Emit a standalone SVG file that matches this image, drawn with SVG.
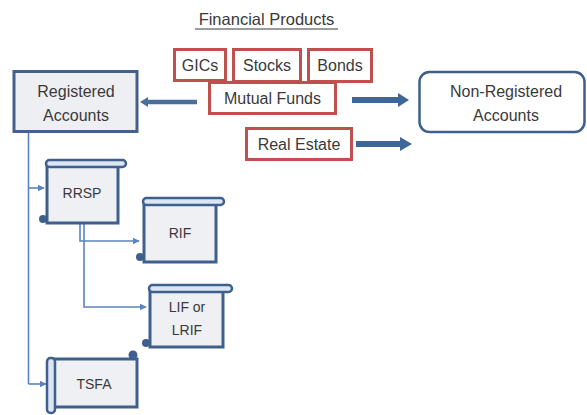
<svg xmlns="http://www.w3.org/2000/svg" width="587" height="415" viewBox="0 0 587 415">
<defs>
<style>
text{font-family:"Liberation Sans",Arial,sans-serif;fill:#3a3a3a;text-anchor:middle}
.lbl{font-size:16px}
.big{font-size:16.5px}
.sc{font-size:14px}
.prod{fill:#fff;stroke:#c0504d;stroke-width:3}
.body{fill:#eef0f4;stroke:#3f5f8c;stroke-width:3}
.bar{fill:#dce6f2;stroke:#3f5f8c;stroke-width:2.5}
.curl{fill:#3f5f8c}
.conn{fill:none;stroke:#5b84bf;stroke-width:1.6}
.thick{fill:#3e6696}
</style>
<marker id="ah" viewBox="0 0 10 10" refX="9" refY="5" markerWidth="7" markerHeight="7" orient="auto" markerUnits="userSpaceOnUse">
<path d="M0,0 L10,5 L0,10 z" fill="#5b84bf"/>
</marker>
</defs>
<rect width="587" height="415" fill="#fff"/>

<g id="title">
<text class="big" x="266.5" y="25">Financial Products</text>
<line x1="195" y1="29" x2="338" y2="29" stroke="#3a3a3a" stroke-width="1.2"/>
</g>

<g id="connectors">
<path class="conn" d="M28.5 133 V384"/>
<path class="conn" d="M28.5 188 H44" marker-end="url(#ah)"/>
<path class="conn" d="M28.5 384 H46" marker-end="url(#ah)"/>
<path class="conn" d="M80 224 V241 H139" marker-end="url(#ah)"/>
<path class="conn" d="M84 224 V307 H146" marker-end="url(#ah)"/>
<path d="M197 102 H147" stroke="#4a6f9d" stroke-width="4.5" fill="none"/>
<path d="M140 102 L148 97 L148 107 z" fill="#4a6f9d"/>
<path class="thick" d="M352 97 H398 V93 L409 100 L398 107 V103 H352 z"/>
<path class="thick" d="M356 141 H400 V137 L412 144 L400 151 V147 H356 z"/>
</g>

<g id="registered">
<rect x="14" y="71.5" width="123" height="60" fill="#eeeff2" stroke="#44618a" stroke-width="3"/>
<text class="lbl" x="76" y="97">Registered</text>
<text class="lbl" x="76" y="121">Accounts</text>
</g>

<g id="nonregistered">
<rect x="419.5" y="72" width="165" height="60" rx="10" fill="#fff" stroke="#3e5f8a" stroke-width="2.5"/>
<text class="lbl" x="506" y="97">Non-Registered</text>
<text class="lbl" x="506" y="121">Accounts</text>
</g>

<g id="gics">
<rect class="prod" x="174.5" y="49.5" width="51" height="31"/>
<text class="lbl" x="200" y="71">GICs</text>
</g>
<g id="stocks">
<rect class="prod" x="233.5" y="49.5" width="67" height="32"/>
<text class="lbl" x="267" y="71">Stocks</text>
</g>
<g id="bonds">
<rect class="prod" x="308.5" y="49.5" width="63" height="32"/>
<text class="lbl" x="340" y="71">Bonds</text>
</g>
<g id="mutualfunds">
<rect class="prod" x="209.5" y="82.5" width="126" height="31"/>
<text class="lbl" x="272.5" y="104">Mutual Funds</text>
</g>
<g id="realestate">
<rect class="prod" x="246.5" y="128.5" width="105" height="31"/>
<text class="lbl" x="299" y="150">Real Estate</text>
</g>

<g id="rrsp">
<rect class="body" x="47" y="164" width="71" height="59"/>
<rect class="bar" x="46" y="160" width="80" height="7" rx="3.5"/>
<circle class="curl" cx="43" cy="219" r="4"/>
<text class="sc" x="82" y="198">RRSP</text>
</g>

<g id="rif">
<rect class="body" x="144" y="202" width="72" height="60"/>
<rect class="bar" x="143" y="198" width="81" height="7" rx="3.5"/>
<circle class="curl" cx="140" cy="257" r="4"/>
<text class="sc" x="180" y="238">RIF</text>
</g>

<g id="lif">
<rect class="body" x="150" y="289" width="73" height="58"/>
<rect class="bar" x="149" y="285" width="83" height="7" rx="3.5"/>
<circle class="curl" cx="146" cy="343" r="4"/>
<text class="sc" x="187" y="312">LIF or</text>
<text class="sc" x="187" y="335">LRIF</text>
</g>

<g id="tsfa">
<rect class="body" x="50" y="359" width="87" height="48"/>
<circle class="curl" cx="133" cy="355" r="4.5"/>
<rect class="bar" x="47" y="358" width="8" height="55" rx="3.5"/>
<text class="sc" x="94" y="389">TSFA</text>
</g>
</svg>
